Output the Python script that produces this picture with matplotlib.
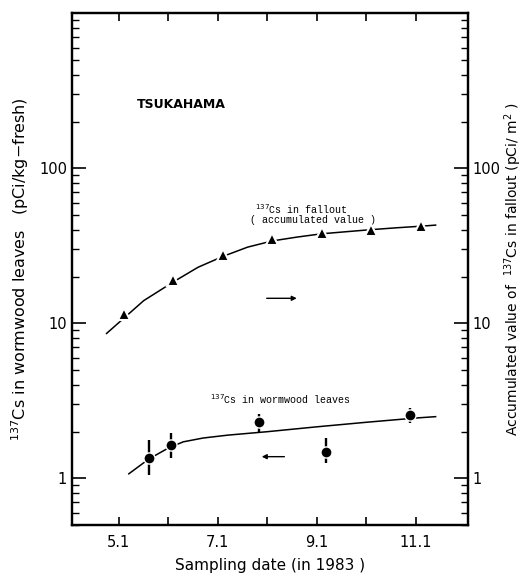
import matplotlib
matplotlib.use("Agg")
import matplotlib.pyplot as plt
from matplotlib.ticker import LogLocator, FixedLocator, NullFormatter, FuncFormatter

# sampling dates as month number (5 = May 1st, ...)
fallout_month = [5.1, 6.1, 7.1, 8.1, 9.1, 10.1, 11.1]
fallout_val = [11.5, 19.0, 27.5, 35.0, 38.0, 40.0, 42.5]

leaf_month = [5.6, 6.05, 7.83, 9.18, 10.88]
leaf_val = [1.35, 1.63, 2.30, 1.49, 2.55]
leaf_low = [1.05, 1.35, 2.00, 1.25, 2.27]
leaf_high = [1.76, 1.96, 2.60, 1.82, 2.83]

# fitted curves
fit_fall_x = [4.75, 5.1, 5.5, 6.1, 6.6, 7.1, 7.6, 8.1, 8.6, 9.1, 9.6, 10.1, 10.6, 11.1, 11.4]
fit_fall_y = [8.6, 10.8, 14.0, 18.5, 23.0, 27.0, 31.0, 34.0, 36.0, 37.8, 39.0, 40.2, 41.3, 42.3, 43.0]
fit_leaf_x = [5.2, 5.6, 6.0, 6.3, 6.7, 7.2, 8.0, 9.0, 10.0, 11.0, 11.4]
fit_leaf_y = [1.07, 1.33, 1.57, 1.72, 1.82, 1.90, 2.00, 2.15, 2.30, 2.45, 2.50]

month_ticks = [5, 6, 7, 8, 9, 10, 11]
month_labels = ['5.1', '', '7.1', '', '9.1', '', '11.1']

fig = plt.figure(figsize=(5.25, 5.76), dpi=100)
ax = fig.add_axes([0.137, 0.0885, 0.754, 0.8885])
ax2 = ax.twinx()

ax.set_yscale('log')
ax2.set_yscale('log')
ax.set_ylim(0.5, 1000)
ax2.set_ylim(0.5, 1000)
ax.set_xlim(4.05, 12.05)

# curves
ax.plot(fit_fall_x, fit_fall_y, color='black', lw=1.1, zorder=2)
ax.plot(fit_leaf_x, fit_leaf_y, color='black', lw=1.1, zorder=2)

# fallout triangles (right axis, same scale)
ax2.plot(fallout_month, fallout_val, linestyle='none', marker='^', ms=8.5,
         mfc='black', mec='white', mew=1.5, zorder=3)

# wormwood circles with error bars
yerr = [[v - lo for v, lo in zip(leaf_val, leaf_low)],
        [hi - v for v, hi in zip(leaf_val, leaf_high)]]
ax.errorbar(leaf_month, leaf_val, yerr=yerr, fmt='o', color='black', ms=8,
            mec='white', mew=1.0, elinewidth=1.7, capsize=0, zorder=3)

# text annotations
ax.text(0.165, 0.815, 'TSUKAHAMA', transform=ax.transAxes, fontsize=9,
        fontweight='bold', family='DejaVu Sans')
ax.text(7.75, 51, r'$^{137}$Cs in fallout', fontsize=7.2, family='Liberation Mono')
ax.text(7.65, 44.5, '( accumulated value )', fontsize=7.2, family='Liberation Mono')
ax.text(6.85, 3.0, r'$^{137}$Cs in wormwood leaves', fontsize=7.2, family='Liberation Mono')
ax.annotate('', xy=(8.65, 14.5), xytext=(7.93, 14.5),
            arrowprops=dict(arrowstyle='-|>', color='black', lw=1, mutation_scale=7))
ax.annotate('', xy=(7.83, 1.38), xytext=(8.4, 1.38),
            arrowprops=dict(arrowstyle='-|>', color='black', lw=1, mutation_scale=7))

# axes styling
dec_fmt = FuncFormatter(lambda v, p: '%d' % v if v in (1, 10, 100) else '')
for a in (ax, ax2):
    a.yaxis.set_major_locator(FixedLocator([1, 10, 100]))
    a.yaxis.set_minor_locator(LogLocator(base=10, subs=range(2, 10), numticks=20))
    a.yaxis.set_major_formatter(dec_fmt)
    a.yaxis.set_minor_formatter(NullFormatter())
    for s in a.spines.values():
        s.set_linewidth(1.6)

ax.tick_params(axis='y', which='major', direction='in', length=10, width=1.2, labelsize=10.5)
ax.tick_params(axis='y', which='minor', direction='in', length=5, width=1)
ax2.tick_params(axis='y', which='major', direction='in', length=10, width=1.2,
                labelsize=10.5, pad=3)
ax2.tick_params(axis='y', which='minor', direction='in', length=5, width=1)

ax.set_xticks(month_ticks)
ax.set_xticklabels(month_labels)
ax.tick_params(axis='x', which='both', direction='in', length=6, width=1.2,
               top=True, labelsize=10.5, pad=7)

ax.set_xlabel('Sampling date (in 1983 )', fontsize=11, labelpad=6)
ax.set_ylabel(r'$^{137}$Cs in wormwood leaves   (pCi/kg$-$fresh)', fontsize=11.5, labelpad=6)
ax2.set_ylabel(r'Accumulated value of  $^{137}$Cs in fallout (pCi/ m$^2$ )', fontsize=10,
               labelpad=2)

fig.savefig('out.png', dpi=100)
